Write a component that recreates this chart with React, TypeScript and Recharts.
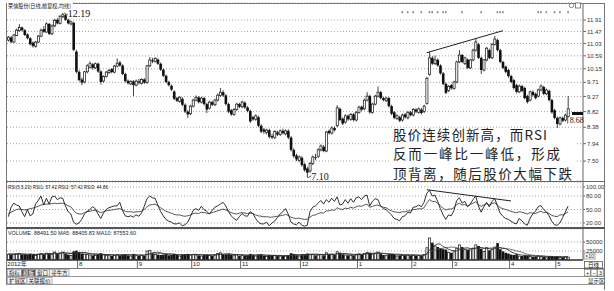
import React from "react";
import {
  ComposedChart,
  Bar,
  Line,
  XAxis,
  YAxis,
  CartesianGrid,
  ReferenceLine,
  ReferenceDot,
} from "recharts";

const W = 614;
const SLOTS = 212;
const FONT = "'Liberation Sans', 'Noto Sans CJK SC', sans-serif";
const CJK = "'Noto Sans CJK SC', sans-serif";

// daily bars: [open, high, low, close]
const candles: number[][] = [
  // Jul 2012
  [11.15, 11.3, 11.1, 11.26], [11.25, 11.3, 11.04, 11.08], [11.08, 11.38, 11.05, 11.34], [11.32, 11.58, 11.3, 11.52],
  [11.5, 11.75, 11.46, 11.62], [11.62, 11.66, 11.48, 11.52], [11.52, 11.56, 11.3, 11.34], [11.36, 11.4, 11.18, 11.22],
  [11.22, 11.26, 10.96, 11.0], [11.06, 11.1, 10.88, 10.94], [10.93, 11.12, 10.88, 11.08], [11.08, 11.34, 11.05, 11.3],
  [11.3, 11.58, 11.26, 11.52], [11.56, 11.68, 11.42, 11.46], [11.45, 11.82, 11.42, 11.76], [11.76, 11.8, 11.34, 11.38],
  [11.38, 11.74, 11.34, 11.68], [11.68, 11.96, 11.64, 11.9], [11.92, 11.98, 11.74, 11.78], [11.78, 12.1, 11.74, 12.06],
  [12.04, 12.19, 11.98, 12.12], [12.1, 12.14, 11.88, 11.92], [11.92, 11.96, 11.74, 11.78], [11.76, 11.88, 11.7, 11.84],
  [11.8, 11.84, 10.76, 10.8], [10.74, 10.8, 10.0, 10.05],
  // Aug
  [10.05, 10.1, 9.74, 9.78], [9.8, 9.86, 9.62, 9.7], [9.72, 10.08, 9.68, 10.05], [10.05, 10.3, 10.0, 10.25],
  [10.2, 10.4, 10.16, 10.32], [10.3, 10.34, 10.12, 10.18], [10.18, 10.36, 10.14, 10.32], [10.32, 10.36, 10.02, 10.06],
  [10.06, 10.1, 9.64, 9.72], [9.75, 9.94, 9.7, 9.9], [9.9, 10.08, 9.86, 10.04], [10.02, 10.14, 9.98, 10.1],
  [10.14, 10.18, 10.0, 10.04], [10.04, 10.28, 10.0, 10.24], [10.24, 10.5, 10.2, 10.34], [10.36, 10.42, 10.22, 10.26],
  [10.26, 10.3, 9.94, 9.98], [9.98, 10.02, 9.7, 9.75], [9.76, 9.8, 9.64, 9.68], [9.66, 9.78, 9.62, 9.74],
  [9.74, 9.78, 9.28, 9.62], [9.62, 9.8, 9.58, 9.75],
  // Sep
  [9.74, 9.82, 9.64, 9.7], [9.68, 9.84, 9.64, 9.8], [9.8, 9.84, 9.66, 9.7], [9.7, 10.28, 9.66, 10.25],
  [10.25, 10.55, 10.2, 10.45], [10.44, 10.52, 10.34, 10.4], [10.4, 10.54, 10.36, 10.5], [10.46, 10.5, 10.28, 10.32],
  [10.32, 10.36, 10.08, 10.12], [10.12, 10.16, 9.88, 9.92], [9.92, 9.96, 9.68, 9.72], [9.72, 9.76, 9.58, 9.62],
  [9.6, 9.64, 9.44, 9.48], [9.42, 9.46, 9.16, 9.2], [9.22, 9.26, 9.1, 9.14], [9.12, 9.28, 9.08, 9.24],
  [9.2, 9.24, 8.98, 9.02], [9.02, 9.06, 8.78, 8.82], [8.82, 8.86, 8.64, 8.74], [8.76, 9.02, 8.72, 8.98],
  // Oct
  [8.98, 9.2, 8.94, 9.16], [9.16, 9.3, 9.12, 9.24], [9.24, 9.28, 9.06, 9.1], [9.1, 9.26, 9.06, 9.22],
  [9.22, 9.26, 9.0, 9.04], [9.04, 9.08, 8.78, 8.88], [8.92, 9.14, 8.88, 9.1], [9.1, 9.14, 8.98, 9.02],
  [9.02, 9.2, 8.98, 9.16], [9.16, 9.36, 9.12, 9.31], [9.3, 9.53, 9.26, 9.4], [9.4, 9.46, 9.26, 9.3],
  [9.3, 9.34, 9.0, 9.04], [9.04, 9.08, 8.78, 8.82], [8.86, 8.9, 8.7, 8.74], [8.74, 8.92, 8.7, 8.88],
  [8.88, 9.08, 8.84, 9.04], [9.04, 9.08, 8.92, 8.96],
  // Nov
  [8.96, 9.14, 8.92, 9.1], [9.08, 9.12, 8.9, 8.94], [8.94, 8.98, 8.8, 8.84], [8.84, 8.88, 8.5, 8.54],
  [8.66, 8.7, 8.56, 8.6], [8.6, 8.74, 8.56, 8.7], [8.66, 8.7, 8.38, 8.42], [8.42, 8.46, 8.22, 8.26],
  [8.32, 8.36, 8.2, 8.26], [8.24, 8.34, 8.18, 8.3], [8.3, 8.34, 8.08, 8.12], [8.14, 8.2, 8.06, 8.1],
  [8.1, 8.3, 8.06, 8.26], [8.24, 8.28, 8.14, 8.18], [8.18, 8.32, 8.14, 8.28], [8.28, 8.34, 8.18, 8.22],
  [8.2, 8.32, 8.16, 8.28], [8.28, 8.32, 8.06, 8.1], [8.1, 8.14, 7.74, 7.78], [7.78, 7.82, 7.58, 7.62],
  [7.64, 7.68, 7.5, 7.54], [7.52, 7.64, 7.48, 7.6],
  // Dec
  [7.58, 7.62, 7.36, 7.4], [7.42, 7.46, 7.24, 7.28], [7.32, 7.36, 7.1, 7.22], [7.26, 7.48, 7.22, 7.44],
  [7.44, 7.64, 7.4, 7.6], [7.6, 7.68, 7.52, 7.58], [7.62, 7.82, 7.58, 7.78], [7.78, 7.92, 7.74, 7.88],
  [7.86, 7.9, 7.72, 7.75], [7.75, 8.28, 7.72, 8.25], [8.28, 8.32, 8.18, 8.22], [8.22, 8.4, 8.18, 8.36],
  [8.36, 8.4, 8.26, 8.3], [8.42, 9.01, 8.38, 8.93], [8.9, 8.94, 8.54, 8.58], [8.62, 8.66, 8.44, 8.48],
  [8.52, 8.74, 8.48, 8.7], [8.7, 8.74, 8.56, 8.6], [8.6, 8.78, 8.56, 8.74], [8.74, 8.78, 8.54, 8.58],
  [8.58, 8.84, 8.54, 8.8],
  // Jan 2013
  [8.8, 8.99, 8.76, 8.95], [8.96, 9.0, 8.84, 8.88], [8.9, 9.2, 8.86, 9.16], [9.16, 9.4, 9.12, 9.28],
  [9.28, 9.32, 8.76, 8.8], [8.8, 9.08, 8.76, 9.04], [9.04, 9.32, 9.0, 9.28], [9.28, 9.58, 9.24, 9.4],
  [9.4, 9.44, 9.18, 9.22], [9.22, 9.26, 9.12, 9.16], [9.14, 9.26, 9.1, 9.22], [9.22, 9.26, 8.94, 8.98],
  [8.98, 9.02, 8.72, 8.76], [8.8, 8.84, 8.6, 8.64], [8.62, 8.74, 8.58, 8.7], [8.66, 8.7, 8.52, 8.56],
  [8.58, 8.76, 8.54, 8.72], [8.74, 8.78, 8.62, 8.66], [8.64, 8.84, 8.6, 8.8], [8.8, 8.84, 8.68, 8.72],
  // Feb
  [8.72, 8.92, 8.68, 8.88], [8.88, 8.92, 8.78, 8.82], [8.8, 8.94, 8.76, 8.9], [8.88, 8.92, 8.74, 8.78],
  [8.82, 9.02, 8.78, 8.98], [9.06, 9.88, 9.02, 9.84], [9.97, 10.73, 9.92, 10.52], [10.52, 10.58, 10.28, 10.32],
  [10.32, 10.6, 10.28, 10.45], [10.45, 10.5, 10.22, 10.26], [10.26, 10.3, 9.96, 10.0], [10.0, 10.04, 9.62, 9.66],
  [9.66, 9.7, 9.34, 9.38], [9.45, 9.62, 9.4, 9.58], [9.62, 9.66, 9.48, 9.52],
  // Mar
  [9.52, 9.76, 9.48, 9.72], [9.72, 10.42, 9.68, 10.38], [10.38, 10.79, 10.34, 10.62], [10.62, 10.66, 10.34, 10.38],
  [10.32, 10.56, 10.28, 10.52], [10.46, 10.5, 10.14, 10.18], [10.18, 10.48, 10.14, 10.45], [10.45, 10.84, 10.4, 10.79],
  [10.79, 11.23, 10.74, 11.08], [11.0, 11.04, 10.48, 10.52], [10.52, 10.56, 9.98, 10.11], [10.11, 10.48, 10.06, 10.45],
  [10.45, 10.9, 10.4, 10.86], [10.79, 10.84, 10.48, 10.52], [10.52, 11.04, 10.48, 11.0], [11.0, 11.3, 10.96, 11.19],
  [11.15, 11.2, 10.74, 10.79], [10.79, 10.84, 10.34, 10.38], [10.38, 10.42, 10.14, 10.18], [10.22, 10.26, 10.0, 10.05],
  [10.11, 10.15, 9.86, 9.91],
  // Apr
  [9.91, 9.95, 9.68, 9.72], [9.78, 9.82, 9.48, 9.53], [9.62, 9.66, 9.36, 9.41], [9.41, 9.64, 9.37, 9.59],
  [9.59, 9.63, 9.4, 9.44], [9.53, 9.57, 9.18, 9.22], [9.28, 9.32, 9.06, 9.1], [9.16, 9.45, 9.12, 9.41],
  [9.41, 9.45, 9.27, 9.31], [9.35, 9.39, 9.18, 9.22], [9.28, 9.51, 9.24, 9.47], [9.47, 9.64, 9.43, 9.59],
  [9.56, 9.6, 9.31, 9.35], [9.35, 9.51, 9.31, 9.47], [9.44, 9.48, 9.12, 9.16], [9.16, 9.2, 8.76, 8.8],
  [8.86, 8.9, 8.6, 8.64],
  // May
  [8.64, 8.68, 8.36, 8.47], [8.47, 8.68, 8.43, 8.64], [8.64, 8.68, 8.52, 8.56], [8.58, 8.76, 8.54, 8.72],
  [8.68, 9.28, 8.66, 8.9],
];

const volumes = [
  170000, 150000, 160000, 180000, 190000, 150000, 160000, 140000, 170000, 150000, 140000, 170000, 190000,
  160000, 200000, 180000, 170000, 230000, 170000, 200000, 230000, 180000, 150000, 140000, 240000, 260000,
  220000, 180000, 170000, 160000, 150000, 130000, 140000, 150000, 190000, 150000, 140000, 130000, 120000,
  140000, 160000, 130000, 150000, 160000, 130000, 120000, 170000, 130000,
  120000, 130000, 120000, 260000, 280000, 190000, 160000, 150000, 140000, 150000, 160000, 130000, 140000,
  170000, 140000, 120000, 150000, 160000, 170000, 150000,
  160000, 150000, 130000, 120000, 140000, 150000, 140000, 120000, 150000, 190000, 210000, 160000, 150000,
  170000, 140000, 130000, 150000, 120000,
  130000, 120000, 130000, 170000, 140000, 120000, 150000, 160000, 120000, 110000, 140000, 120000, 130000,
  110000, 120000, 110000, 120000, 130000, 190000, 170000, 140000, 120000,
  150000, 160000, 180000, 170000, 160000, 130000, 150000, 160000, 130000, 210000, 150000, 170000, 140000,
  240000, 200000, 160000, 150000, 130000, 140000, 130000, 160000,
  180000, 150000, 190000, 220000, 200000, 170000, 190000, 230000, 180000, 140000, 130000, 160000, 170000,
  150000, 120000, 130000, 140000, 130000, 150000, 130000, 140000, 120000, 130000, 120000, 160000,
  350000, 620000, 480000, 400000, 360000, 330000, 300000, 290000, 220000, 200000, 240000, 330000, 430000,
  360000, 300000, 280000, 290000, 340000, 430000, 390000, 310000, 250000, 350000, 270000, 310000, 370000,
  470000, 300000, 240000, 200000,
  180000, 150000, 140000, 160000, 120000, 110000, 130000, 120000, 110000, 90000, 100000, 120000, 110000,
  85000, 72000, 95000, 110000, 84000, 98000, 80000, 76000, 98000, 88491.5,
];

const volMa5 = [
  165000, 165000, 163000, 165000, 170000, 166000, 164000, 156000, 160000, 154000, 152000, 156000, 162000,
  166000, 172000, 180000, 182000, 192000, 186000, 190000, 202000, 198000, 190000, 180000, 188000, 198000,
  206000, 210000, 206000, 196000, 176000, 158000, 150000, 150000, 152000, 152000, 150000, 152000, 146000,
  136000, 138000, 140000, 140000, 146000, 148000, 142000, 146000, 142000,
  138000, 134000, 134000, 152000, 172000, 200000, 210000, 216000, 206000, 178000, 160000, 150000, 146000,
  150000, 148000, 144000, 144000, 148000, 150000, 148000,
  154000, 158000, 152000, 144000, 140000, 138000, 136000, 138000, 140000, 150000, 162000, 166000, 172000,
  176000, 166000, 154000, 148000, 144000,
  138000, 130000, 130000, 138000, 138000, 136000, 142000, 148000, 138000, 130000, 128000, 128000, 124000,
  124000, 124000, 118000, 118000, 118000, 134000, 146000, 150000, 146000,
  154000, 148000, 154000, 156000, 164000, 162000, 158000, 154000, 146000, 156000, 158000, 160000, 156000,
  182000, 184000, 182000, 182000, 168000, 164000, 144000, 142000,
  148000, 152000, 160000, 172000, 188000, 186000, 194000, 202000, 194000, 182000, 170000, 162000, 156000,
  150000, 144000, 146000, 142000, 134000, 138000, 136000, 138000, 134000, 134000, 128000, 134000,
  176000, 276000, 354000, 404000, 450000, 438000, 374000, 340000, 302000, 268000, 258000, 256000, 284000,
  310000, 332000, 340000, 320000, 312000, 328000, 348000, 348000, 324000, 324000, 314000, 300000, 320000,
  342000, 336000, 318000, 318000,
  278000, 228000, 192000, 172000, 150000, 136000, 132000, 128000, 122000, 116000, 110000, 110000, 106000,
  103000, 96000, 92000, 95000, 89000, 92000, 88000, 84000, 87000, 88405.83,
];

const volMa10 = [
  168000, 166000, 165000, 165000, 166000, 166000, 165000, 163000, 162000, 160000, 158000, 158000, 160000,
  162000, 164000, 166000, 170000, 176000, 178000, 184000, 190000, 192000, 192000, 190000, 190000, 194000,
  200000, 200000, 196000, 188000, 182000, 178000, 178000, 174000, 170000, 162000, 154000, 150000, 148000,
  144000, 144000, 146000, 144000, 144000, 144000, 138000, 140000, 140000,
  142000, 140000, 138000, 148000, 156000, 166000, 174000, 180000, 180000, 176000, 180000, 180000, 178000,
  166000, 152000, 146000, 144000, 146000, 148000, 146000,
  148000, 150000, 150000, 148000, 146000, 144000, 146000, 148000, 146000, 144000, 150000, 152000, 154000,
  158000, 158000, 156000, 154000, 152000,
  150000, 148000, 140000, 140000, 140000, 136000, 136000, 138000, 138000, 136000, 134000, 132000, 132000,
  130000, 126000, 122000, 122000, 122000, 128000, 132000, 134000, 132000,
  136000, 138000, 142000, 148000, 156000, 156000, 154000, 154000, 156000, 162000, 160000, 158000, 156000,
  164000, 168000, 172000, 170000, 160000, 160000, 160000, 160000,
  162000, 164000, 170000, 176000, 176000, 174000, 174000, 180000, 184000, 184000, 180000, 176000, 174000,
  168000, 164000, 160000, 156000, 150000, 144000, 142000, 142000, 140000, 136000, 134000, 136000,
  156000, 204000, 246000, 276000, 298000, 318000, 326000, 346000, 352000, 358000, 354000, 346000, 320000,
  306000, 300000, 300000, 302000, 312000, 328000, 338000, 334000, 330000, 330000, 332000, 334000, 344000,
  346000, 346000, 336000, 320000,
  308000, 296000, 276000, 252000, 236000, 214000, 184000, 160000, 146000, 132000, 123000, 120000, 118000,
  114000, 108000, 102000, 100000, 98000, 94000, 92000, 90000, 88000, 87553.6,
];

// RSI(5) and RSI(20)
const rsi5 = [
  34, 55, 64, 60, 58, 45, 34, 50, 36, 40, 62, 70, 80, 60, 75, 62, 78, 80, 72, 76,
  75, 58, 45, 40, 22, 17, 20, 28, 40, 46, 50, 56, 52, 40, 30, 42, 50, 54, 56, 58,
  58, 66, 48, 36, 34, 36, 33, 38, 35, 42, 57, 74, 80, 76, 75, 60, 46, 36, 28, 24,
  22, 18, 18, 20, 14, 16, 22, 34, 48, 52, 48, 57, 50, 46, 40, 48, 55, 58, 62, 66,
  58, 46, 36, 30, 26, 34, 41, 36, 35, 45, 41, 30, 22, 18, 18, 22, 14, 20, 24, 32,
  40, 45, 52, 40, 22, 18, 16, 22, 15, 13, 15, 45, 55, 58, 64, 70, 62, 72, 66, 75,
  68, 78, 60, 62, 72, 64, 74, 66, 76, 78, 72, 80, 82, 58, 68, 74, 72, 58, 52, 50,
  44, 38, 30, 28, 25, 34, 36, 44, 42, 55, 56, 60, 56, 66, 86, 93, 80, 82, 68, 52,
  38, 28, 38, 36, 48, 70, 76, 64, 68, 56, 62, 72, 80, 58, 44, 56, 66, 56, 68, 74,
  58, 42, 35, 30, 28, 24, 20, 18, 30, 25, 18, 15, 30, 40, 46, 56, 59, 50, 45, 36,
  24, 16, 15, 20, 32, 44, 57.42,
];

const rsi20 = [
  40, 44, 47, 50, 51, 50, 49, 50, 52, 53, 55, 57, 60, 61, 62, 62, 63, 64, 63, 64,
  64, 62, 58, 56, 48, 42, 40, 40, 43, 45, 46, 48, 48, 46, 43, 45, 47, 48, 49, 50,
  51, 52, 49, 46, 45, 45, 44, 45, 45, 46, 50, 56, 60, 61, 62, 58, 54, 50, 46, 44,
  42, 39, 38, 38, 36, 35, 36, 38, 41, 42, 41, 44, 43, 42, 41, 43, 45, 47, 49, 51,
  49, 46, 43, 41, 40, 42, 43, 42, 41, 42, 41, 38, 36, 35, 34, 34, 33, 33, 34, 35,
  36, 37, 39, 37, 33, 31, 30, 31, 29, 28, 28, 33, 37, 38, 41, 43, 42, 47, 47, 49,
  48, 54, 51, 50, 53, 52, 55, 53, 56, 58, 57, 60, 62, 55, 57, 59, 60, 57, 55, 54,
  50, 47, 45, 44, 43, 45, 45, 47, 47, 50, 50, 52, 51, 54, 64, 72, 68, 68, 64, 58,
  53, 49, 51, 51, 54, 61, 64, 60, 61, 58, 61, 64, 67, 61, 57, 60, 63, 60, 63, 65,
  60, 54, 52, 50, 48, 46, 44, 43, 45, 44, 42, 40, 43, 42, 41, 44, 46, 43, 44, 41,
  37, 35, 34, 38, 38, 41, 44.86,
];

const priceTicks = [7.5, 7.94, 8.38, 8.82, 9.27, 9.71, 10.15, 10.59, 11.03, 11.47, 11.91];
const rsiTicks = [20, 50, 80, 100];
const volTicks = [250000, 500000];
const monthStarts = [0, 26, 48, 68, 86, 108, 129, 149, 164, 185, 202];
const monthLabels = ["2012年", "8", "9", "10", "11", "12", "1", "2", "3", "4", "5"];
const eventDays = [145, 147, 149, 152, 155, 156, 158, 160, 161, 167, 174, 180, 181, 182, 195, 196, 198, 201, 203, 206];
const lastPrice = 8.68;
const priceTrend = [{ i: 154, v: 10.7 }, { i: 182, v: 11.5 }];
const rsiTrend = [{ i: 154, v: 94 }, { i: 185, v: 69 }];
const noteLines = ["股价连续创新高，而RSI", "反而一峰比一峰低，形成", "顶背离，随后股价大幅下跌"];
const noteWidths = [154, 167, 179];
const tabsTop = ["指标", "模板", "窗口", "寻牛方"];
const tabsBottom = ["扩展区", "关联报价"];

const rows = Array.from({ length: SLOTS }, (_, i) => {
  const c = candles[i];
  if (!c) return { i };
  return {
    i,
    o: c[0],
    h: c[1],
    l: c[2],
    c: c[3],
    range: [c[2], c[1]],
    vol: volumes[i],
    ma5: volMa5[i],
    ma10: volMa10[i],
    rsi1: rsi5[i],
    rsi3: rsi20[i],
  };
});

const hiIdx = candles.reduce((m, c, i) => (c[1] > candles[m][1] ? i : m), 0);
const loIdx = candles.reduce((m, c, i) => (c[2] < candles[m][2] ? i : m), 0);
const last = candles.length - 1;

const axisTick = { fontSize: 6, fill: "#333", fontFamily: FONT };
const margin = { top: 0, right: 10, bottom: 0, left: 7 };

function CandleShape(props: any) {
  const { x, y, width, height, payload } = props;
  if (!payload || payload.o == null || !Number.isFinite(y)) return null;
  const { o, h, l, c } = payload;
  const yTop = Math.min(y, y + height);
  const yBot = Math.max(y, y + height);
  const span = Math.log(h / l);
  // log axis: place open/close between the high and low ends of the bar
  const toY = (v: number) => (span > 0 ? yTop + ((yBot - yTop) * Math.log(h / v)) / span : yTop);
  const cx = x + width / 2;
  const up = c >= o;
  const bTop = toY(Math.max(o, c));
  const bBot = Math.max(toY(Math.min(o, c)), bTop + 0.8);
  return (
    <g>
      <line x1={cx} x2={cx} y1={yTop} y2={yBot} stroke="#111" strokeWidth={0.8} />
      {up ? (
        <rect x={cx - 1.05} y={bTop} width={2.1} height={bBot - bTop} fill="#fff" stroke="#111" strokeWidth={0.7} />
      ) : (
        <rect x={cx - 1.3} y={bTop} width={2.6} height={bBot - bTop} fill="#111" />
      )}
    </g>
  );
}

function VolShape(props: any) {
  const { x, y, width, height, payload } = props;
  if (!payload || payload.vol == null || !(height > 0)) return null;
  const cx = x + width / 2;
  if (payload.c >= payload.o) {
    return <rect x={cx - 1.05} y={y + 0.35} width={2.1} height={Math.max(height - 0.35, 0.5)} fill="#fff" stroke="#111" strokeWidth={0.7} />;
  }
  return <rect x={cx - 1.3} y={y} width={2.6} height={height} fill="#111" />;
}

function MonthTick(props: any) {
  const { x, y, payload } = props;
  const k = monthStarts.indexOf(payload.value);
  if (k < 0) return null;
  return (
    <g>
      {k > 0 && <line x1={x - 1.4} x2={x - 1.4} y1={y} y2={y + 8} stroke="#444" strokeWidth={0.8} />}
      <text x={k > 0 ? x : x - 1} y={y + 6} fontSize={6} fontFamily={FONT} fill="#222">
        {monthLabels[k]}
      </text>
    </g>
  );
}

const fmt = (v: number) => v.toFixed(2);

export default function App() {
  const rsiHeader = `RSI(5,5,20) RSI1: ${fmt(rsi5[last])} RSI2: ${fmt(rsi5[last])} RSI3: ${fmt(rsi20[last])}`;
  const volHeader = `VOLUME: ${fmt(volumes[last])} MA5: ${fmt(volMa5[last])} MA10: ${fmt(volMa10[last])}`;
  let tx = 7;
  const topTabs = tabsTop.map((t) => {
    const w = t.length * 5.5 + 3;
    const r = { t, x: tx, w };
    tx += w;
    return r;
  });
  tx = 7;
  const lowTabs = tabsBottom.map((t) => {
    const w = t.length * 5.5 + 3;
    const r = { t, x: tx, w };
    tx += w;
    return r;
  });

  return (
    <div style={{ position: "absolute", left: 0, top: 0, width: W, height: 291, background: "#fff", overflow: "hidden" }}>
      {/* price panel */}
      <div style={{ position: "absolute", left: 0, top: 0 }}>
        <ComposedChart width={W} height={181} data={rows} margin={{ ...margin, top: 3 }} barCategoryGap={0} barGap={0}>
          <CartesianGrid vertical={false} stroke="#a4a4a4" strokeDasharray="1 2" />
          <XAxis dataKey="i" type="category" scale="band" hide />
          <YAxis
            orientation="right"
            type="number"
            scale="log"
            domain={[7.025, 12.594]}
            allowDataOverflow
            ticks={priceTicks}
            interval={0}
            tickFormatter={fmt}
            width={21}
            tick={axisTick}
            tickSize={3}
            tickMargin={1}
            axisLine={{ stroke: "#666" }}
            tickLine={{ stroke: "#666" }}
          />
          <Bar dataKey="range" shape={(p: any) => <CandleShape {...p} />} isAnimationActive={false} />
          <ReferenceLine
            segment={[{ x: priceTrend[0].i, y: priceTrend[0].v }, { x: priceTrend[1].i, y: priceTrend[1].v }]}
            stroke="#222"
            strokeWidth={1}
          />
          {eventDays.map((d) => (
            <ReferenceDot
              key={d}
              x={d}
              y={12.22}
              ifOverflow="visible"
              shape={(p: any) => <rect x={p.cx - 0.8} y={p.cy - 1} width={1.6} height={2} fill="#888" />}
            />
          ))}
          <ReferenceDot
            x={hiIdx}
            y={candles[hiIdx][1]}
            ifOverflow="visible"
            shape={(p: any) => (
              <g>
                <line x1={p.cx + 1.5} y1={p.cy} x2={p.cx + 5} y2={p.cy + 2} stroke="#222" strokeWidth={0.8} />
                <text x={p.cx + 5} y={p.cy + 4.5} fontSize={10} fontFamily="'Liberation Serif', serif" fill="#111">
                  {fmt(candles[hiIdx][1])}
                </text>
              </g>
            )}
          />
          <ReferenceDot
            x={loIdx}
            y={candles[loIdx][2]}
            ifOverflow="visible"
            shape={(p: any) => (
              <g>
                <line x1={p.cx + 1} y1={p.cy} x2={p.cx + 4} y2={p.cy - 2} stroke="#222" strokeWidth={0.8} />
                <text x={p.cx + 4} y={p.cy + 2.5} fontSize={10} fontFamily="'Liberation Serif', serif" fill="#111">
                  {fmt(candles[loIdx][2])}
                </text>
              </g>
            )}
          />
          <ReferenceDot
            x={SLOTS - 3}
            y={lastPrice}
            ifOverflow="visible"
            shape={(p: any) => (
              <g>
                <rect x={p.cx - 4.2} y={p.cy - 4.5} width={11} height={3} fill="#111" />
                <line x1={p.cx - 8.5} x2={p.cx - 8.5} y1={p.cy} y2={p.cy + 7} stroke="#333" strokeWidth={0.8} />
                <text x={p.cx - 6.5} y={p.cy + 6.5} fontSize={8} fontFamily="'Liberation Serif', serif" fill="#111">
                  {fmt(lastPrice)}
                </text>
              </g>
            )}
          />
        </ComposedChart>
      </div>

      {/* RSI panel */}
      <div style={{ position: "absolute", left: 0, top: 182 }}>
        <ComposedChart width={W} height={46} data={rows} margin={margin}>
          <CartesianGrid vertical={false} stroke="#a4a4a4" strokeDasharray="1 2" />
          <XAxis dataKey="i" type="category" scale="band" hide />
          <YAxis
            orientation="right"
            type="number"
            domain={[8.9, 111.1]}
            allowDataOverflow
            ticks={rsiTicks}
            interval={0}
            tickFormatter={fmt}
            width={21}
            tick={axisTick}
            tickSize={2}
            tickMargin={1}
            axisLine={{ stroke: "#666" }}
            tickLine={{ stroke: "#666" }}
          />
          <Line dataKey="rsi3" stroke="#444" strokeWidth={0.9} dot={false} isAnimationActive={false} />
          <Line dataKey="rsi1" stroke="#1a1a1a" strokeWidth={0.9} dot={false} isAnimationActive={false} />
          <ReferenceLine
            segment={[{ x: rsiTrend[0].i, y: rsiTrend[0].v }, { x: rsiTrend[1].i, y: rsiTrend[1].v }]}
            stroke="#222"
            strokeWidth={1}
          />
        </ComposedChart>
      </div>

      {/* volume panel with the month strip */}
      <div style={{ position: "absolute", left: 0, top: 228 }}>
        <ComposedChart width={W} height={40} data={rows} margin={{ ...margin, top: 1 }} barCategoryGap={0} barGap={0}>
          <CartesianGrid vertical={false} stroke="#a4a4a4" strokeDasharray="1 2" />
          <XAxis
            dataKey="i"
            type="category"
            scale="band"
            height={8}
            ticks={monthStarts}
            interval={0}
            tickSize={0}
            tickMargin={0}
            tickLine={false}
            axisLine={{ stroke: "#333", strokeWidth: 1.5 }}
            tick={(p: any) => <MonthTick {...p} />}
          />
          <YAxis
            orientation="right"
            type="number"
            domain={[0, 861000]}
            allowDataOverflow
            ticks={volTicks}
            interval={0}
            tickFormatter={(v: number) => String(v / 10)}
            width={21}
            tick={axisTick}
            tickSize={2}
            tickMargin={1}
            axisLine={{ stroke: "#666" }}
            tickLine={{ stroke: "#666" }}
          />
          <Bar dataKey="vol" shape={(p: any) => <VolShape {...p} />} isAnimationActive={false} />
          <Line dataKey="ma10" stroke="#555" strokeWidth={0.8} dot={false} isAnimationActive={false} />
          <Line dataKey="ma5" stroke="#222" strokeWidth={0.8} dot={false} isAnimationActive={false} />
        </ComposedChart>
      </div>

      {/* frame, headers, notes and tab strip */}
      <svg width={W} height={291} style={{ position: "absolute", left: 0, top: 0, pointerEvents: "none" }}>
        <line x1={6.5} x2={6.5} y1={3} y2={285} stroke="#777" />
        <line x1={6} x2={605} y1={3.5} y2={3.5} stroke="#777" />
        <line x1={604.5} x2={604.5} y1={3} y2={290} stroke="#777" />
        <line x1={6} x2={605} y1={181.5} y2={181.5} stroke="#666" />
        <line x1={6} x2={605} y1={228} y2={228} stroke="#555" strokeWidth={2} />
        <line x1={6} x2={605} y1={268.5} y2={268.5} stroke="#777" />
        <line x1={6} x2={605} y1={276.5} y2={276.5} stroke="#999" />
        <line x1={6} x2={605} y1={284.5} y2={284.5} stroke="#999" />

        <rect x={7} y={1} width={66} height={8} fill="#fff" />
        <text x={8} y={8} fontSize={6} fontFamily={CJK} fill="#222" textLength={63} lengthAdjust="spacingAndGlyphs">
          荣信股份(日线,前复权,均线)
        </text>
        <circle cx={571.5} cy={5.5} r={2.2} fill="#fff" stroke="#555" strokeWidth={0.7} />
        <rect x={575.5} y={3} width={5} height={5} fill="#fff" stroke="#555" strokeWidth={0.7} />

        <text x={8} y={188.5} fontSize={6} fontFamily={FONT} fill="#222" textLength={100} lengthAdjust="spacingAndGlyphs">
          {rsiHeader}
        </text>
        <text x={8} y={234.5} fontSize={6} fontFamily={FONT} fill="#222" textLength={128} lengthAdjust="spacingAndGlyphs">
          {volHeader}
        </text>

        <rect x={389} y={129} width={187} height={52} fill="#fff" />
        {noteLines.map((t, k) => (
          <text
            key={k}
            x={393}
            y={139.5 + k * 19.6}
            fontSize={13.5}
            fontFamily={CJK}
            fill="#222"
            textLength={noteWidths[k]}
            lengthAdjust="spacing"
          >
            {t}
          </text>
        ))}

        {topTabs.map((t, k) => (
          <g key={t.t}>
            <rect x={t.x + 0.5} y={269.5} width={t.w} height={6.5} fill={k === 1 ? "#555" : "#f4f4f4"} stroke="#888" strokeWidth={0.6} />
            <text x={t.x + 2} y={275} fontSize={5.5} fontFamily={CJK} fill={k === 1 ? "#fff" : "#222"}>
              {t.t}
            </text>
          </g>
        ))}
        {lowTabs.map((t) => (
          <g key={t.t}>
            <rect x={t.x + 0.5} y={277.5} width={t.w} height={6.5} fill="#f4f4f4" stroke="#888" strokeWidth={0.6} />
            <text x={t.x + 2} y={283} fontSize={5.5} fontFamily={CJK} fill="#222">
              {t.t}
            </text>
          </g>
        ))}

        <rect x={584} y={253} width={11} height={6} fill="#fff" stroke="#666" strokeWidth={0.6} />
        <text x={585.3} y={258.2} fontSize={5} fontFamily={FONT} fill="#222">×10</text>
        <rect x={584.5} y={261.5} width={18} height={6.5} fill="#fff" stroke="#444" strokeWidth={0.7} />
        <text x={588} y={267} fontSize={5.5} fontFamily={CJK} fill="#111">日线</text>
        {["+", "−", "3"].map((s, k) => (
          <g key={s}>
            <rect x={584.5 + k * 6.5} y={269.5} width={6} height={6.5} fill="#fff" stroke="#666" strokeWidth={0.6} />
            <text x={586 + k * 6.5} y={274.8} fontSize={5.5} fontFamily={FONT} fill="#111">{s}</text>
          </g>
        ))}
        <text x={588} y={283} fontSize={5.5} fontFamily={CJK} fill="#222">显示区</text>
      </svg>
    </div>
  );
}
